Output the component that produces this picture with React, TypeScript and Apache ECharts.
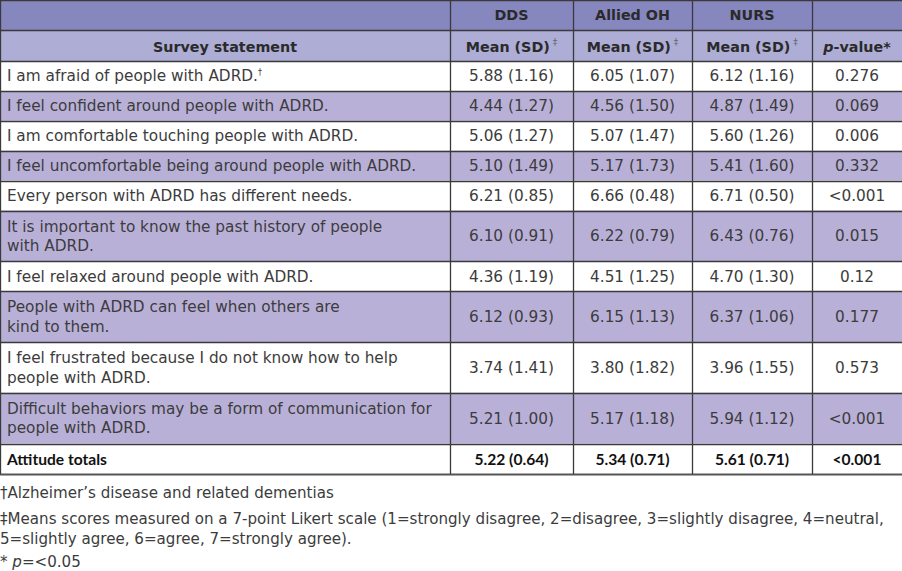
import React, { useEffect, useRef } from "react";
import * as echarts from "echarts";

const groupHeaders = ["DDS", "Allied OH", "NURS", ""];
const statements = [
  "I am afraid of people with ADRD.",
  "I feel confident around people with ADRD.",
  "I am comfortable touching people with ADRD.",
  "I feel uncomfortable being around people with ADRD.",
  "Every person with ADRD has different needs.",
  "It is important to know the past history of people\nwith ADRD.",
  "I feel relaxed around people with ADRD.",
  "People with ADRD can feel when others are\nkind to them.",
  "I feel frustrated because I do not know how to help\npeople with ADRD.",
  "Difficult behaviors may be a form of communication for\npeople with ADRD.",
];
const ddsMean = [5.88, 4.44, 5.06, 5.1, 6.21, 6.1, 4.36, 6.12, 3.74, 5.21];
const ddsSD = [1.16, 1.27, 1.27, 1.49, 0.85, 0.91, 1.19, 0.93, 1.41, 1.0];
const alliedMean = [6.05, 4.56, 5.07, 5.17, 6.66, 6.22, 4.51, 6.15, 3.8, 5.17];
const alliedSD = [1.07, 1.5, 1.47, 1.73, 0.48, 0.79, 1.25, 1.13, 1.82, 1.18];
const nursMean = [6.12, 4.87, 5.6, 5.41, 6.71, 6.43, 4.7, 6.37, 3.96, 5.94];
const nursSD = [1.16, 1.49, 1.26, 1.6, 0.5, 0.76, 1.3, 1.06, 1.55, 1.12];
const pValues = ["0.276", "0.069", "0.006", "0.332", "<0.001", "0.015", "0.12", "0.177", "0.573", "<0.001"];
const totalsLabel = "Attitude totals";
const totalsMean = [5.22, 5.34, 5.61];
const totalsSD = [0.64, 0.71, 0.71];
const totalsP = "<0.001";
const footnotes = [
  "†Alzheimer’s disease and related dementias",
  "‡Means scores measured on a 7-point Likert scale (1=strongly disagree, 2=disagree, 3=slightly disagree, 4=neutral,\n5=slightly agree, 6=agree, 7=strongly agree).",
];
const pNote = "=<0.05";

const W = 902;
const H = 571;
const FONT = "DejaVu Sans";
const FONT_TOTAL = "Lato";
const FS = 15.3;
const FS_BOLD = 14.3;
const FS_TOTAL = 15.6;
const FS_NOTE = 15.1;
const colX = [0, 450, 573, 692, 812, 902];
const HEAD1 = "#8787BF";
const HEAD2 = "#ADADD5";
const PURPLE = "#B9B0D8";
const LINE = "#3a3a3a";
const TXT = "#3c3c3c";

function fmt(m: number, s: number) {
  return `${m.toFixed(2)} (${s.toFixed(2)})`;
}

function buildGraphics() {
  const els: any[] = [];
  const row1Top = 0, row1H = 30, row2Top = 30, row2H = 31;
  els.push({ type: "rect", shape: { x: 0, y: row1Top, width: W, height: row1H }, style: { fill: HEAD1 } });
  els.push({ type: "rect", shape: { x: 0, y: row2Top, width: W, height: row2H }, style: { fill: HEAD2 } });
  groupHeaders.forEach((g, i) => {
    if (!g) return;
    els.push({
      type: "text",
      x: (colX[i + 1] + colX[i + 2]) / 2,
      y: row1Top + row1H / 2,
      style: { text: g, fontFamily: FONT, fontWeight: "bold", fontSize: FS_BOLD, fill: "#2a2a2a", align: "center", verticalAlign: "middle" },
    });
  });
  els.push({
    type: "text",
    x: (colX[0] + colX[1]) / 2,
    y: row2Top + row2H / 2 + 1,
    style: { text: "Survey statement", fontFamily: FONT, fontWeight: "bold", fontSize: FS_BOLD, fill: "#2a2a2a", align: "center", verticalAlign: "middle" },
  });
  for (let i = 0; i < 3; i++) {
    els.push({
      type: "text",
      x: (colX[i + 1] + colX[i + 2]) / 2,
      y: row2Top + row2H / 2 + 1,
      style: {
        text: "{b|Mean (SD)}{s| ‡}",
        align: "center",
        verticalAlign: "middle",
        rich: {
          b: { fontFamily: FONT, fontWeight: "bold", fontSize: FS_BOLD, fill: "#2a2a2a" },
          s: { fontFamily: FONT, fontSize: 9, fill: "#666", verticalAlign: "top", lineHeight: 18 },
        },
      },
    });
  }
  els.push({
    type: "text",
    x: (colX[4] + colX[5]) / 2,
    y: row2Top + row2H / 2 + 1,
    style: {
      text: "{i|p}{b|-value*}",
      align: "center",
      verticalAlign: "middle",
      rich: {
        i: { fontFamily: FONT, fontWeight: "bold", fontStyle: "italic", fontSize: FS_BOLD, fill: "#2a2a2a" },
        b: { fontFamily: FONT, fontWeight: "bold", fontSize: FS_BOLD, fill: "#2a2a2a" },
      },
    },
  });

  let y = row2Top + row2H;
  const hLines: number[] = [0, row2Top, y];
  statements.forEach((s, r) => {
    const lines = s.split("\n").length;
    const h = lines === 1 ? 29.9 : 50.8;
    if (r % 2 === 1) {
      els.push({ type: "rect", shape: { x: 0, y, width: W, height: h }, style: { fill: PURPLE } });
    }
    const cy = y + h / 2 + 0.5;
    els.push({
      type: "text",
      x: 7,
      y: cy,
      style: r === 0
        ? {
            text: `{t|${s}}{s|†}`,
            verticalAlign: "middle",
            rich: {
              t: { fontFamily: FONT, fontSize: FS, fill: TXT },
              s: { fontFamily: FONT, fontSize: 8, fill: TXT, verticalAlign: "top", lineHeight: 16 },
            },
          }
        : { text: s, fontFamily: FONT, fontSize: FS, fill: TXT, verticalAlign: "middle", lineHeight: 19.5 },
    });
    const vals = [fmt(ddsMean[r], ddsSD[r]), fmt(alliedMean[r], alliedSD[r]), fmt(nursMean[r], nursSD[r]), pValues[r]];
    vals.forEach((v, c) => {
      els.push({
        type: "text",
        x: (colX[c + 1] + colX[c + 2]) / 2,
        y: cy,
        style: { text: v, fontFamily: FONT, fontSize: FS, fill: TXT, align: "center", verticalAlign: "middle" },
      });
    });
    y += h;
    hLines.push(y);
  });
  const th = 30;
  const tcy = y + th / 2 + 0.5;
  els.push({
    type: "text",
    x: 7,
    y: tcy,
    style: { text: totalsLabel, fontFamily: FONT_TOTAL, fontWeight: "bold", fontSize: FS_TOTAL, fill: "#111", verticalAlign: "middle" },
  });
  const tv = [fmt(totalsMean[0], totalsSD[0]), fmt(totalsMean[1], totalsSD[1]), fmt(totalsMean[2], totalsSD[2]), totalsP];
  tv.forEach((v, c) => {
    els.push({
      type: "text",
      x: (colX[c + 1] + colX[c + 2]) / 2,
      y: tcy,
      style: { text: v, fontFamily: FONT_TOTAL, fontWeight: "bold", fontSize: FS_TOTAL, fill: "#111", align: "center", verticalAlign: "middle" },
    });
  });
  const tableBottom = y + th;

  hLines.forEach((ly) => {
    const yy = Math.round(ly) + 0.5;
    els.push({ type: "line", shape: { x1: 0, y1: yy, x2: W, y2: yy }, style: { stroke: LINE, lineWidth: 1.3 } });
  });
  els.push({
    type: "line",
    shape: { x1: 0, y1: Math.round(tableBottom) + 0.5, x2: W, y2: Math.round(tableBottom) + 0.5 },
    style: { stroke: "#555", lineWidth: 2 },
  });
  [0.5, ...colX.slice(1, 5).map((x) => x + 0.5)].forEach((x) => {
    els.push({ type: "line", shape: { x1: x, y1: 0, x2: x, y2: Math.round(tableBottom) }, style: { stroke: LINE, lineWidth: 1.3 } });
  });

  els.push({
    type: "text",
    x: 0,
    y: 493,
    style: { text: footnotes[0], fontFamily: FONT, fontSize: FS_NOTE, fill: TXT, verticalAlign: "middle" },
  });
  els.push({
    type: "text",
    x: 0,
    y: 519 - 9.75,
    style: { text: footnotes[1], fontFamily: FONT, fontSize: FS_NOTE, fill: TXT, verticalAlign: "top", lineHeight: 19.5 },
  });
  els.push({
    type: "text",
    x: 0,
    y: 562,
    style: {
      text: `{n|* }{i|p}{n|${pNote}}`,
      verticalAlign: "middle",
      rich: {
        n: { fontFamily: FONT, fontSize: FS_NOTE, fill: TXT },
        i: { fontFamily: FONT, fontSize: FS_NOTE, fill: TXT, fontStyle: "italic" },
      },
    },
  });
  return els;
}

export default function App() {
  const ref = useRef<HTMLDivElement>(null);
  useEffect(() => {
    if (!ref.current) return;
    const chart = echarts.init(ref.current, null, { renderer: "svg" });
    chart.setOption({
      animation: false,
      backgroundColor: "#ffffff",
      graphic: { elements: buildGraphics() },
    });
    return () => chart.dispose();
  }, []);
  return (
    <div
      ref={ref}
      style={{ position: "fixed", left: 0, top: 0, width: W, height: H, background: "#fff" }}
    />
  );
}
